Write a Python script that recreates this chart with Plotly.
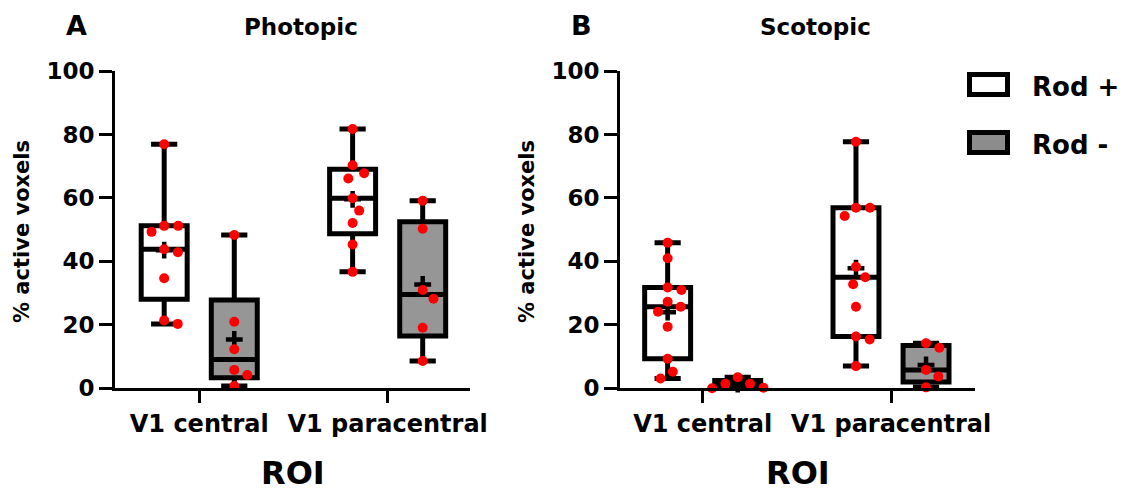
import numpy as np
import plotly.graph_objects as go

W, H = 1136, 494

# ---- data: % active voxels per subject ----
categories = ["V1 central", "V1 paracentral"]
group_names = ["Rod +", "Rod -"]

photopic_central_rod_pos = [76.9, 51.2, 51.2, 49.3, 43.8, 42.9, 34.7, 21.4, 20.3]
photopic_central_rod_neg = [48.3, 21.0, 12.3, 5.8, 4.2, 0.7]
photopic_para_rod_pos = [81.7, 70.3, 67.8, 66.1, 59.9, 56.0, 52.1, 45.3, 36.7]
photopic_para_rod_neg = [59.1, 50.3, 31.0, 28.2, 19.1, 8.6]

scotopic_central_rod_pos = [45.9, 41.0, 31.8, 31.0, 27.3, 25.7, 24.1, 19.4, 9.3, 5.2, 3.1]
scotopic_central_rod_neg = [3.5, 1.4, 1.4, 0.2, 0.0]
scotopic_para_rod_pos = [77.7, 56.9, 56.9, 54.3, 38.3, 35.0, 32.8, 25.7, 16.3, 15.4, 7.0]
scotopic_para_rod_neg = [14.2, 12.8, 5.8, 3.7, 0.3]

y_ticks = [0, 20, 40, 60, 80, 100]

# ---- layout geometry (pixels) ----
FONT = "DejaVu Sans"
Y_TOP_PX, Y_BOT_PX = 71.0, 388.3
panels = [
    dict(title="Photopic", letter="A", xdom_px=(115, 470), xrange=(-0.447, 1.437), title_x=301,
         data=[[photopic_central_rod_pos, photopic_para_rod_pos],
               [photopic_central_rod_neg, photopic_para_rod_neg]]),
    dict(title="Scotopic", letter="B", xdom_px=(620, 975), xrange=(-0.439, 1.446), title_x=815,
         data=[[scotopic_central_rod_pos, scotopic_para_rod_pos],
               [scotopic_central_rod_neg, scotopic_para_rod_neg]]),
]
GROUP_OFFSET = [-0.186, 0.186]
BOX_WIDTH = 0.244
FILLS = ["white", "rgb(150,150,150)"]
DOT = 10
SPACING = 14


def px_x(x):
    return x / W


def px_y(y):
    return 1 - y / H


def swarm(values, px_per_x, px_per_y):
    """Beeswarm offsets (data units) so dots don't overlap."""
    vals = np.asarray(values, dtype=float)
    order = np.argsort(-vals, kind="stable")
    placed = []
    offs = np.zeros(len(vals))
    for i in order:
        y = vals[i] * px_per_y
        cands = [0.0]
        for xj, yj in placed:
            dy = abs(y - yj)
            if dy < SPACING:
                dx = np.sqrt(SPACING ** 2 - dy ** 2)
                cands += [xj + dx, xj - dx]
        valid = [c for c in cands
                 if all((c - xj) ** 2 + (y - yj) ** 2 >= SPACING ** 2 - 1e-6 for xj, yj in placed)]
        best = min(valid, key=lambda c: (abs(c), -c))
        placed.append((best, y))
        offs[i] = best / px_per_x
    return offs


fig = go.Figure()
layout_axes = {}
annotations = []
px_per_y = (Y_BOT_PX - Y_TOP_PX) / 100.0

for p_idx, panel in enumerate(panels):
    sfx = "" if p_idx == 0 else str(p_idx + 1)
    xa, ya = "x" + sfx, "y" + sfx
    x0p, x1p = panel["xdom_px"]
    px_per_x = (x1p - x0p) / (panel["xrange"][1] - panel["xrange"][0])

    for g, series in enumerate(panel["data"]):
        for c, vals in enumerate(series):
            pos = c + GROUP_OFFSET[g]
            v = np.asarray(vals, dtype=float)
            q1, med, q3 = np.percentile(v, [25, 50, 75], method="weibull")
            fig.add_trace(go.Box(
                x=[pos], q1=[q1], median=[med], q3=[q3],
                lowerfence=[v.min()], upperfence=[v.max()],
                width=BOX_WIDTH, whiskerwidth=0.57,
                fillcolor=FILLS[g], line=dict(color="black", width=5),
                boxpoints=False, showlegend=False, hoverinfo="skip",
                xaxis=xa, yaxis=ya))
            fig.add_trace(go.Scatter(
                x=[pos], y=[v.mean()], mode="markers", cliponaxis=False,
                marker=dict(symbol="cross-thin", size=12, color="black",
                            line=dict(width=4.5, color="black")),
                showlegend=False, hoverinfo="skip", xaxis=xa, yaxis=ya))
            fig.add_trace(go.Scatter(
                x=pos + swarm(v, px_per_x, px_per_y), y=v, mode="markers",
                cliponaxis=False, marker=dict(color="#ff0000", size=DOT, line=dict(width=0)),
                showlegend=False, hoverinfo="skip", xaxis=xa, yaxis=ya))

    tick_font = dict(family=FONT, size=23, color="black", weight="bold")
    layout_axes["xaxis" + sfx] = dict(
        domain=[px_x(x0p), px_x(x1p)], range=list(panel["xrange"]), anchor=ya,
        automargin=False,
        tickvals=[0, 1], ticktext=categories, ticks="outside", ticklen=12, tickwidth=3,
        tickcolor="black", showline=True, linewidth=3, linecolor="black",
        showgrid=False, zeroline=False, tickfont=dict(family=FONT, size=24, color="black", weight="bold"))
    layout_axes["yaxis" + sfx] = dict(
        domain=[px_y(Y_BOT_PX), px_y(Y_TOP_PX)], range=[0, 100], anchor=xa,
        automargin=False,
        tickvals=y_ticks, ticks="outside", ticklen=13, tickwidth=3, tickcolor="black",
        showline=True, linewidth=3, linecolor="black", showgrid=False, zeroline=False,
        tickfont=tick_font)

    cx = (x0p + x1p) / 2
    annotations += [
        dict(text=panel["letter"], x=px_x(x0p - 38.5), y=px_y(26), font=dict(size=27)),
        dict(text=panel["title"], x=px_x(panel["title_x"]), y=px_y(27), font=dict(size=23)),
        dict(text="ROI", x=px_x(cx), y=px_y(473), font=dict(size=32)),
        dict(text="% active voxels", x=px_x(x0p - 93), y=px_y(232), textangle=-90,
             font=dict(size=21)),
    ]

# ---- legend drawn as shapes + labels ----
shapes = []
legend_rows = [(84.5, FILLS[0]), (142.5, "rgb(140,140,140)")]
for (cy, fill), name in zip(legend_rows, group_names):
    shapes.append(dict(type="rect", xref="paper", yref="paper",
                       x0=px_x(969.5), x1=px_x(1007.5), y0=px_y(cy + 10), y1=px_y(cy - 10),
                       fillcolor=fill, line=dict(color="black", width=5)))
    annotations.append(dict(text=name, x=px_x(1030), y=px_y(cy + 2), xanchor="left",
                            font=dict(size=26)))

for a in annotations:
    a.setdefault("xref", "paper")
    a.setdefault("yref", "paper")
    a.setdefault("xanchor", "center")
    a.setdefault("yanchor", "middle")
    a["showarrow"] = False
    f = a["font"]
    f.update(family=FONT, color="black", weight="bold")

fig.update_layout(
    width=W, height=H, margin=dict(l=0, r=0, t=0, b=0),
    paper_bgcolor="white", plot_bgcolor="white",
    annotations=annotations, shapes=shapes, showlegend=False,
    **layout_axes)

fig.write_html("out.html")
